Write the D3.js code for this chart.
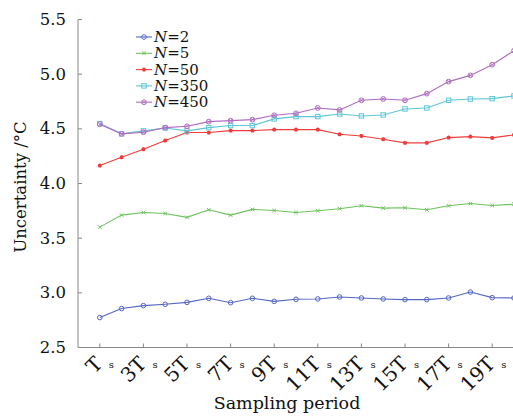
<!DOCTYPE html>
<html>
<head>
<meta charset="utf-8">
<script src="https://cdn.jsdelivr.net/npm/d3@7"></script>
<style>
  body { margin: 0; background: #fff; }
  text { font-family: "DejaVu Serif", serif; fill: #111; }
</style>
</head>
<body>
<div id="chart"></div>
<script>
var periods = d3.range(1, 21);
var n2   = [2.774, 2.856, 2.883, 2.895, 2.913, 2.950, 2.910, 2.950, 2.922, 2.941, 2.944, 2.962, 2.953, 2.944, 2.938, 2.938, 2.953, 3.007, 2.956, 2.953];
var n5   = [3.601, 3.711, 3.735, 3.726, 3.690, 3.760, 3.711, 3.763, 3.753, 3.735, 3.751, 3.769, 3.796, 3.775, 3.778, 3.760, 3.796, 3.817, 3.799, 3.811];
var n50  = [4.164, 4.240, 4.313, 4.393, 4.466, 4.466, 4.484, 4.484, 4.493, 4.493, 4.493, 4.450, 4.435, 4.405, 4.372, 4.372, 4.420, 4.429, 4.417, 4.445];
var n350 = [4.548, 4.454, 4.481, 4.508, 4.481, 4.511, 4.530, 4.530, 4.591, 4.612, 4.612, 4.636, 4.618, 4.627, 4.682, 4.691, 4.761, 4.773, 4.776, 4.801];
var n450 = [4.542, 4.454, 4.469, 4.511, 4.523, 4.566, 4.575, 4.584, 4.624, 4.642, 4.691, 4.673, 4.761, 4.773, 4.761, 4.822, 4.932, 4.989, 5.087, 5.215];
var seriesNames = ['2', '5', '50', '350', '450'];
var xTicks = [1, 3, 5, 7, 9, 11, 13, 15, 17, 19];
var xTickLabels = ['T', '3T', '5T', '7T', '9T', '11T', '13T', '15T', '17T', '19T'];
var yTicks = [2.5, 3.0, 3.5, 4.0, 4.5, 5.0, 5.5];

var series = [
    {name: seriesNames[0], values: n2,   color: '#5566c4', marker: 'circle'},
    {name: seriesNames[1], values: n5,   color: '#6cc35c', marker: 'cross'},
    {name: seriesNames[2], values: n50,  color: '#f23c3c', marker: 'star'},
    {name: seriesNames[3], values: n350, color: '#5cc6d6', marker: 'square'},
    {name: seriesNames[4], values: n450, color: '#b06cc2', marker: 'dotcircle'}
];

var W = 513, H = 417;
var svg = d3.select('#chart').append('svg')
    .attr('width', W)
    .attr('height', H);

var x = d3.scaleLinear().domain([0, 20]).range([78, 514]);
var y = d3.scaleLinear().domain([2.5, 5.5]).range([347.5, 19.5]);

// axes lines
svg.append('line')
    .attr('x1', x(0)).attr('x2', x(0))
    .attr('y1', y(2.5)).attr('y2', y(5.5))
    .attr('stroke', '#888').attr('stroke-width', 1);
svg.append('line')
    .attr('x1', x(0)).attr('x2', W)
    .attr('y1', y(2.5)).attr('y2', y(2.5))
    .attr('stroke', '#888').attr('stroke-width', 1);

// y ticks
svg.selectAll('.ytick').data(yTicks).enter().append('line')
    .attr('x1', x(0)).attr('x2', x(0) + 4)
    .attr('y1', d => y(d)).attr('y2', d => y(d))
    .attr('stroke', '#888');
svg.selectAll('.ylab').data(yTicks).enter().append('text')
    .attr('x', 66).attr('y', d => y(d) + 5.5)
    .attr('text-anchor', 'end')
    .attr('font-size', 16.5)
    .text(d => d.toFixed(1));

// x ticks
svg.selectAll('.xtick').data(xTicks).enter().append('line')
    .attr('x1', d => x(d)).attr('x2', d => x(d))
    .attr('y1', y(2.5)).attr('y2', y(2.5) - 4)
    .attr('stroke', '#888');
var xl = svg.selectAll('.xlab').data(xTicks).enter().append('g');
xl.append('text')
    .attr('transform', d => 'translate(' + (x(d) + 4) + ',365) rotate(-45)')
    .attr('text-anchor', 'end')
    .attr('font-size', 20)
    .text((d, i) => xTickLabels[i]);
xl.append('text')
    .attr('x', d => x(d) + 9).attr('y', 368)
    .attr('font-size', 10)
    .text('s');

// axis titles
svg.append('text')
    .attr('x', 287).attr('y', 409)
    .attr('text-anchor', 'middle')
    .attr('font-size', 17.5)
    .text('Sampling period');
svg.append('text')
    .attr('transform', 'translate(26,187) rotate(-90)')
    .attr('text-anchor', 'middle')
    .attr('font-size', 16.5)
    .text('Uncertainty /°C');

var line = d3.line()
    .x((d, i) => x(periods[i]))
    .y(d => y(d));

function drawMarker(g, type, color) {
    if (type === 'circle') {
        g.append('circle').attr('r', 2.3).attr('fill', 'none').attr('stroke', color).attr('stroke-width', 1);
    } else if (type === 'cross') {
        g.append('path').attr('d', 'M-1.8,-1.8L1.8,1.8M-1.8,1.8L1.8,-1.8').attr('stroke', color).attr('stroke-width', 1);
    } else if (type === 'star') {
        g.append('path').attr('d', 'M-2,0L2,0M0,-2L0,2M-1.5,-1.5L1.5,1.5M-1.5,1.5L1.5,-1.5').attr('stroke', color).attr('stroke-width', 1.2);
    } else if (type === 'square') {
        g.append('rect').attr('x', -2.2).attr('y', -2.2).attr('width', 4.4).attr('height', 4.4)
            .attr('fill', 'none').attr('stroke', color).attr('stroke-width', 1);
    } else {
        g.append('circle').attr('r', 2.4).attr('fill', 'none').attr('stroke', color).attr('stroke-width', 1);
        g.append('path').attr('d', 'M-1.6,-1.6L1.6,1.6M-1.6,1.6L1.6,-1.6').attr('stroke', color).attr('stroke-width', 0.8);
    }
}

series.forEach(function(s) {
    svg.append('path')
        .datum(s.values)
        .attr('fill', 'none')
        .attr('stroke', s.color)
        .attr('stroke-width', 1.1)
        .attr('d', line);
    s.values.forEach(function(v, i) {
        var g = svg.append('g').attr('transform', 'translate(' + x(periods[i]) + ',' + y(v) + ')');
        drawMarker(g, s.marker, s.color);
    });
});

// legend
var legend = svg.append('g');
series.forEach(function(s, i) {
    var ly = 37 + i * 16.3;
    legend.append('line')
        .attr('x1', 136).attr('x2', 152)
        .attr('y1', ly).attr('y2', ly)
        .attr('stroke', s.color).attr('stroke-width', 1.1);
    drawMarker(legend.append('g').attr('transform', 'translate(144,' + ly + ')'), s.marker, s.color);
    var t = legend.append('text')
        .attr('x', 154).attr('y', ly + 5)
        .attr('font-size', 15);
    t.append('tspan').attr('font-style', 'italic').text('N');
    t.append('tspan').text('=' + s.name);
});
</script>
</body>
</html>
